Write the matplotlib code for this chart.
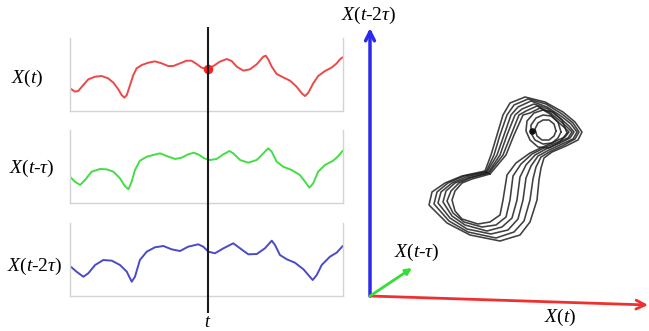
import matplotlib
matplotlib.use("Agg")
import matplotlib.pyplot as plt

plt.rcParams['font.family'] = ['Liberation Serif', 'DejaVu Serif']
plt.rcParams['mathtext.fontset'] = 'custom'
plt.rcParams['mathtext.rm'] = 'Liberation Serif'
plt.rcParams['mathtext.it'] = 'Liberation Serif:italic'

# --- series (time 0..100 across a panel, level 0..100 up a panel)
t_red = [0, 1.8, 3.0, 4.9, 6.7, 9.2, 11.6, 14.0, 15.9, 17.7, 18.9, 19.9, 20.8, 22.0, 23.2,
         24.4, 26.3, 28.7, 31.1, 33.6, 36.0, 37.8, 40.3, 42.7, 44.5, 46.4, 48.2, 50.3, 52.5,
         54.9, 57.4, 59.2, 61.1, 63.5, 65.9, 68.4, 70.8, 71.7, 72.6, 73.9, 75.7, 78.1, 80.6,
         83.0, 84.9, 86.1, 87.3, 89.1, 90.9, 93.4, 95.8, 97.7, 98.9, 99.9]
x_red = [31.1, 26.5, 27.4, 35.6, 43.4, 47.0, 47.9, 44.7, 38.8, 29.7, 21.9, 18.3, 21.9, 35.6,
         49.3, 58.4, 63.0, 66.2, 68.0, 65.3, 61.6, 61.6, 65.3, 68.9, 68.9, 64.4, 59.4, 57.5,
         61.6, 67.6, 71.2, 68.5, 60.7, 55.3, 57.1, 64.0, 74.4, 75.8, 70.8, 60.7, 50.7, 46.1,
         41.5, 33.3, 24.2, 20.5, 25.1, 37.9, 47.9, 54.8, 59.4, 65.3, 70.8, 73.6]

t_green = [0, 1.8, 3.7, 5.5, 7.9, 11.0, 13.4, 15.9, 18.3, 20.1, 21.4, 22.6, 23.8, 25.6, 28.1,
           30.5, 33.0, 35.4, 38.5, 40.9, 43.3, 45.4, 47.4, 49.1, 51.3, 53.7, 56.2, 58.4, 59.8,
           62.3, 65.3, 68.4, 70.8, 72.6, 73.9, 75.7, 78.1, 81.2, 84.2, 86.1, 87.7, 89.1, 90.9,
           93.4, 96.4, 98.3, 99.9]
x_green = [36.0, 29.2, 24.7, 31.5, 42.9, 46.6, 46.1, 42.9, 33.8, 23.3, 18.8, 29.2, 45.2, 57.9,
           63.4, 65.8, 68.0, 64.4, 60.3, 62.1, 66.7, 68.9, 65.8, 61.2, 58.9, 60.3, 66.7, 71.2,
           68.0, 58.9, 55.2, 58.9, 68.0, 74.9, 70.3, 56.6, 49.7, 45.2, 38.4, 29.2, 21.0, 27.0,
           42.9, 52.1, 57.9, 64.4, 71.6]

t_blue = [0.3, 2.4, 4.9, 6.7, 9.2, 12.2, 15.3, 18.3, 20.8, 22.6, 23.8, 25.6, 28.1, 31.1, 34.2,
          37.2, 40.3, 43.3, 47.0, 48.8, 50.7, 53.1, 56.2, 59.8, 62.3, 65.3, 68.4, 71.4, 73.9,
          75.1, 76.9, 79.4, 82.4, 85.5, 87.3, 88.9, 90.4, 92.2, 95.2, 97.7, 99.9]
x_blue = [40.1, 33.3, 26.4, 31.1, 42.5, 49.3, 48.4, 42.5, 33.3, 19.6, 26.4, 49.3, 60.7, 66.7,
          68.5, 64.0, 61.6, 67.6, 70.8, 67.6, 60.7, 58.5, 65.3, 72.2, 65.3, 57.1, 57.5, 65.3,
          75.8, 69.9, 56.2, 50.3, 45.6, 36.6, 28.8, 21.9, 28.8, 42.5, 53.8, 59.4, 68.5]

t_now = 50.4
x_now = 57.5

row_labels = [r'$X$($t$)', r'$X$($t$-$\tau$)', r'$X$($t$-2$\tau$)']

# --- reconstructed phase space, picture coordinates (y grows downward)
loops = [
    [(485, 171), (491, 155), (497, 135), (503, 115), (510, 103), (525, 97), (545, 102),
     (563, 112), (575, 122), (582, 132), (578, 140), (566, 146), (552, 152), (544, 158),
     (541, 168), (539, 180), (537, 200), (530, 222), (520, 235), (500, 241), (470, 235),
     (447, 223), (429, 205), (432, 192), (445, 183), (462, 176), (485, 171)],
    [(486, 172), (494, 155), (500, 135), (507, 115), (514, 105), (528, 99), (546, 104),
     (562, 114), (573, 123), (579, 132), (575, 139), (564, 145), (551, 151), (541, 157),
     (536, 167), (533, 179), (530, 200), (524, 221), (514, 232), (496, 238), (468, 232),
     (449, 221), (434, 204), (437, 192), (448, 183), (464, 176), (486, 172)],
    [(487, 172), (497, 155), (504, 135), (511, 115), (518, 107), (531, 101), (547, 107),
     (561, 116), (571, 124), (577, 132), (573, 139), (562, 144), (549, 150), (538, 156),
     (531, 166), (526, 178), (523, 200), (518, 219), (508, 230), (491, 234), (467, 229),
     (450, 218), (438, 203), (441, 192), (452, 183), (466, 177), (487, 172)],
    [(488, 173), (500, 155), (507, 135), (515, 115), (522, 109), (534, 104), (548, 109),
     (560, 118), (569, 126), (574, 132), (570, 138), (560, 143), (548, 148), (535, 155),
     (526, 165), (520, 177), (517, 200), (512, 218), (502, 227), (487, 231), (465, 225),
     (452, 216), (443, 202), (446, 191), (455, 183), (468, 178), (488, 173)],
    [(489, 173), (503, 155), (511, 135), (519, 115), (526, 111), (537, 106), (549, 112),
     (559, 120), (567, 127), (572, 132), (568, 138), (558, 142), (546, 147), (532, 154),
     (521, 164), (513, 176), (510, 200), (506, 217), (496, 225), (482, 227), (464, 222),
     (453, 213), (447, 201), (451, 191), (459, 183), (470, 178), (489, 173)],
    [(490, 174), (506, 155), (514, 135), (523, 115), (530, 113), (540, 108), (550, 114),
     (558, 122), (565, 128), (569, 132), (565, 137), (556, 141), (545, 146), (530, 153),
     (516, 163), (507, 175), (503, 200), (500, 215), (490, 222), (478, 224), (462, 219),
     (455, 211), (452, 200), (455, 191), (462, 183), (472, 179), (490, 174)],
]
rings = [
    [(556, 131), (554, 124), (549, 120), (543, 120), (538, 123), (535, 129), (537, 136),
     (542, 140), (549, 140), (554, 136), (556, 131)],
    [(561, 132), (558, 122), (551, 116), (543, 115), (536, 118), (531, 125), (531, 133),
     (535, 140), (543, 144), (552, 143), (558, 138), (561, 132)],
    [(567, 133), (562, 120), (553, 112), (543, 110), (534, 113), (527, 121), (526, 131),
     (530, 140), (538, 147), (549, 148), (560, 142), (567, 133)],
]
knot = (532, 131)

origin = (370, 296)
tip_now = (648, 305)
tip_tau = (412, 268)
tip_2tau = (370, 28)

fig = plt.figure(figsize=(6.49, 3.31), dpi=100)

W, H = 649, 331
panel_left, panel_right = 70, 343
panel_rows = [(38, 111), (130, 203), (223, 296)]
series = [(t_red, x_red, '#ec4848'), (t_green, x_green, '#44dd44'), (t_blue, x_blue, '#4a4ac8')]
label_x = [11, 9, 7]
label_y = [0.44, 0.48, 0.40]
FS = 14

axes = []
for i, ((top, bot), (tt, xx, col)) in enumerate(zip(panel_rows, series)):
    ax = fig.add_axes([panel_left / W, (H - bot) / H, (panel_right - panel_left) / W, (bot - top) / H])
    ax.plot(tt, xx, color=col, lw=1.4, solid_joinstyle='round', solid_capstyle='round')
    ax.set_xlim(0, 100)
    ax.set_ylim(0, 100)
    ax.set_xticks([])
    ax.set_yticks([])
    ax.spines['top'].set_visible(False)
    for s in ['left', 'right', 'bottom']:
        ax.spines[s].set_color('#d4d4d4')
        ax.spines[s].set_linewidth(1.0)
    ax.patch.set_alpha(0)
    ax.text((label_x[i] - panel_left) / (panel_right - panel_left), label_y[i], row_labels[i],
            transform=ax.transAxes, ha='left', va='center', fontsize=FS)
    axes.append(ax)

axes[0].scatter([t_now], [x_now], s=34, color='#ff2020', zorder=5, clip_on=False)

# the "now" line runs through all three panels
ov = fig.add_axes([panel_left / W, (H - 313) / H, (panel_right - panel_left) / W, (313 - 27) / H])
ov.set_xlim(0, 100)
ov.set_ylim(0, 1)
ov.axis('off')
ov.axvline(t_now, color='#1a1a1a', lw=1.5)
ov.text(t_now, -0.004, r'$t$', ha='center', va='top', fontsize=13)

# phase space
ps = fig.add_axes([340 / W, 0, (W - 340) / W, 1])
ps.set_xlim(340, 649)
ps.set_ylim(331, 0)
ps.axis('off')

for lp in loops + rings:
    ps.plot([p[0] for p in lp], [p[1] for p in lp], color='#1e1e1e', lw=1.15, alpha=0.85,
            solid_joinstyle='round')
ps.scatter([knot[0]], [knot[1]], s=14, color='#111111', zorder=4)

ps.annotate('', xy=tip_now, xytext=origin,
            arrowprops=dict(arrowstyle='->', color='#f03030', lw=2.0, mutation_scale=16,
                            shrinkA=0, shrinkB=0))
ps.annotate('', xy=tip_2tau, xytext=origin,
            arrowprops=dict(arrowstyle='->', color='#2a2aee', lw=2.5, mutation_scale=16,
                            shrinkA=0, shrinkB=0))
ps.annotate('', xy=tip_tau, xytext=origin,
            arrowprops=dict(arrowstyle='-|>', color='#33e033', lw=2.0, mutation_scale=9,
                            shrinkA=0, shrinkB=0))

ps.text(369, 15, r'$X$($t$-2$\tau$)', ha='center', va='center', fontsize=FS)
ps.text(417, 252, r'$X$($t$-$\tau$)', ha='center', va='center', fontsize=FS)
ps.text(560, 317, r'$X$($t$)', ha='center', va='center', fontsize=FS)

fig.savefig('out.png', dpi=100, facecolor='white')
